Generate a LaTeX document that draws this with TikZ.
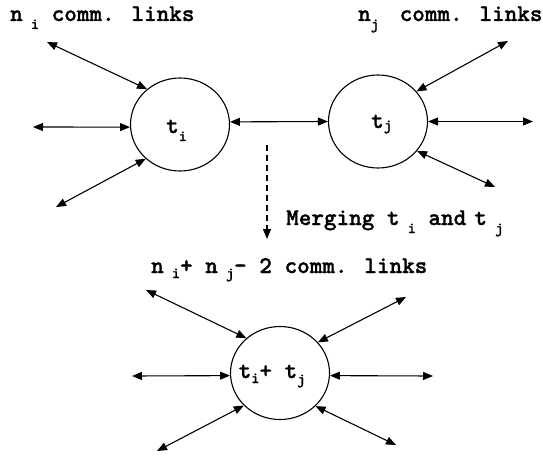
\documentclass[tikz,border=0pt]{standalone}
\usepackage{fontspec}
\newfontfamily\lblfont{lmmonolt10-bold}[Extension=.otf,FakeBold=1.2]
\usetikzlibrary{shapes.geometric,arrows.meta}
% lowered, smaller index letter
\newcommand\lowsub[2]{\raisebox{-#1}{\fontsize{15.5}{16}\selectfont #2}}
\begin{document}
\begin{tikzpicture}[x=1pt,y=-1pt,
  task/.style={draw,ellipse,line width=1.1pt,minimum width=99pt,minimum height=93pt,inner sep=0pt},
  txt/.style={anchor=base west,inner sep=0pt,font=\lblfont\fontsize{24}{24}\selectfont},
  link/.style={line width=1.1pt,{Triangle[length=10pt,width=8pt]}-{Triangle[length=10pt,width=8pt]}},
  merge/.style={line width=1.1pt,dash pattern=on 6pt off 4pt,-{Triangle[length=10pt,width=8pt]}}]
\useasboundingbox (0,0) rectangle (543,460);

% the two tasks before merging
\node[task] (ti) at (180,124.5) {};
\node[task] (tj) at (378,121.5) {};
\node[txt] (tilab) at (166,133) {t\lowsub{8pt}{i}};
\node[txt] (tjlab) at (371,128) {t\lowsub{2pt}{j}};

% titles
\node[txt] (nilab) at (10,21) {n\lowsub{8pt}{ i} comm. links};
\node[txt] (njlab) at (358,21) {n\lowsub{8pt}{j } comm. links};

% free ends of the links of t_i
\coordinate (a1) at (47,42);
\coordinate (a2) at (33,127);
\coordinate (a3) at (56,207);
\draw[link] (a1) -- (ti.133);
\draw[link] (a2) -- (ti.183);
\draw[link] (a3) -- (ti.225);

% link between t_i and t_j
\draw[link] (ti.3) -- (tj.west);

% free ends of the links of t_j
\coordinate (b1) at (508,41);
\coordinate (b2) at (533,121.5);
\coordinate (b3) at (495,187);
\draw[link] (tj.38) -- (b1);
\draw[link] (tj.east) -- (b2);
\draw[link] (tj.323) -- (b3);

% merging step
\coordinate (m0) at (267,145);
\coordinate (m1) at (267,239);
\draw[merge] (m0) -- (m1);
\node[txt] (mlab) at (286,225) {Merging t\lowsub{8pt}{ i} and\lowsub{8pt}{ }t\lowsub{8pt}{ j}};

% merged task
\node[task] (tm) at (280,373) {};
\node[txt] (tmlab) at (238.5,378) {t\lowsub{5pt}{i}+ t\lowsub{6pt}{j}};
\node[txt] (nmlab) at (151,273) {n\lowsub{5pt}{ i}+ n\lowsub{5pt}{ j}- 2 comm. links};

\coordinate (c1) at (146,290);
\coordinate (c2) at (406,297);
\coordinate (c3) at (132,376);
\coordinate (c4) at (433,376);
\coordinate (c5) at (157,451);
\coordinate (c6) at (396,445);
\draw[link] (c1) -- (tm.134);
\draw[link] (tm.39) -- (c2);
\draw[link] (c3) -- (tm.183);
\draw[link] (tm.357) -- (c4);
\draw[link] (c5) -- (tm.222);
\draw[link] (tm.317) -- (c6);
\end{tikzpicture}
\end{document}
